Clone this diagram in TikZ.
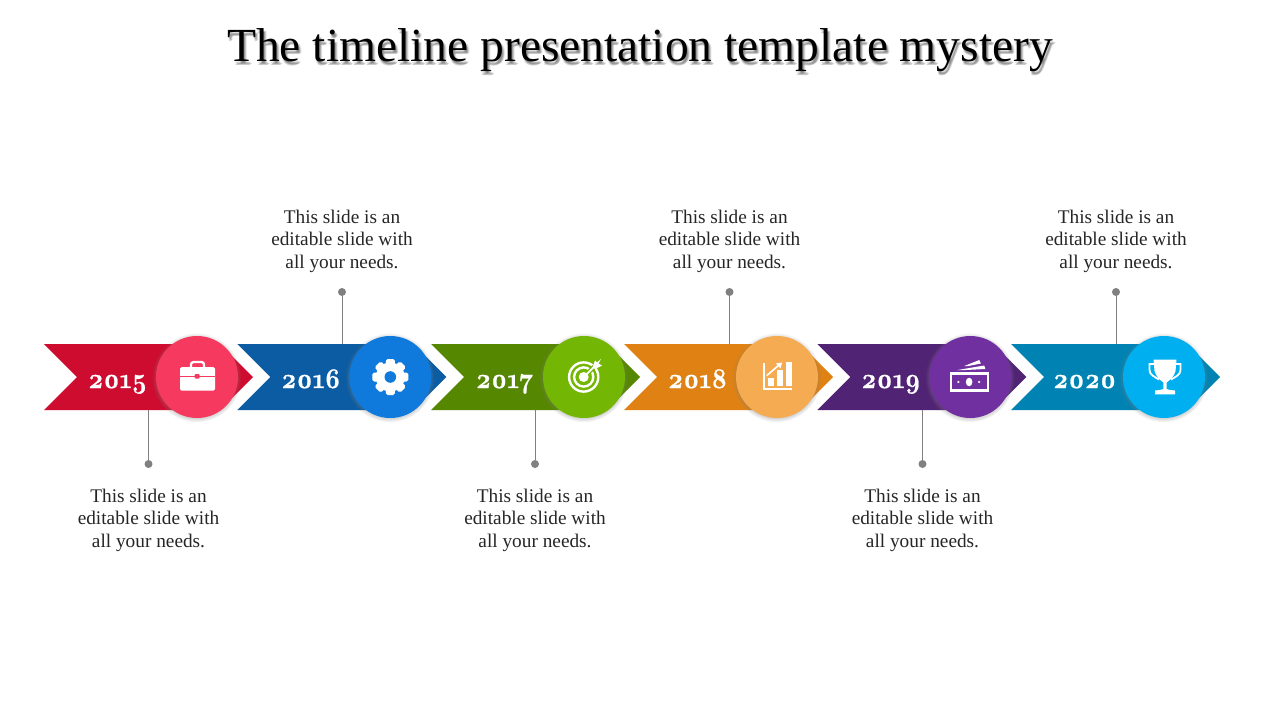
\documentclass[tikz,border=0pt]{standalone}
\usepackage{fontspec}
\setmainfont{Liberation Serif}
\newfontfamily\yearfont[Numbers=OldStyle,FakeStretch=.88,FakeBold=.8]{Latin Modern Roman}
\usetikzlibrary{shadows,fadings,positioning}

\definecolor{redD}{HTML}{CE0C2F}
\definecolor{redL}{HTML}{F63A5F}
\definecolor{blueD}{HTML}{0B5CA3}
\definecolor{blueL}{HTML}{107ADC}
\definecolor{greenD}{HTML}{558700}
\definecolor{greenL}{HTML}{74B604}
\definecolor{orangeD}{HTML}{E08213}
\definecolor{orangeL}{HTML}{F4AB52}
\definecolor{purpleD}{HTML}{512374}
\definecolor{purpleL}{HTML}{7030A0}
\definecolor{tealD}{HTML}{0083B3}
\definecolor{tealL}{HTML}{00AFF0}

\tikzset{
  x=1pt,y=-1pt,
  yeartext/.style={font=\yearfont\bfseries\fontsize{28.5}{28.5}\selectfont,text=white,inner sep=0pt,anchor=base},
  blurb/.style={font=\fontsize{19.3}{22.5}\selectfont,text=black!85,align=center,inner sep=0pt},
  headline/.style={font=\fontsize{47.5}{50}\selectfont,inner sep=0pt},
  disc/.style={circle,minimum size=82pt,inner sep=0pt,
    circular drop shadow={shadow xshift=-.5pt,shadow yshift=-.5pt,shadow scale=1.09,opacity=.5}},
  leaddot/.style={circle,fill=black!50,minimum size=8pt,inner sep=0pt},
  leadline/.style={draw=black!50,line width=1pt},
  iconcase/.pic={
    \fill[white,rounded corners=1.5pt] (-17,-10) rectangle (18,13.5);
    \draw[white,line width=2.2pt,rounded corners=2.5pt] (-6,-10) -- (-6,-15) -- (7,-15) -- (7,-10);
    \fill[redL] (-17,-1) rectangle (18,.2);
    \fill[redL,rounded corners=1pt] (-2.3,-3) rectangle (2.7,1.5);
  },
  icongear/.pic={
    \foreach \a in {0,45,...,315}
      \fill[white,rotate=\a,rounded corners=1.8pt] (-4.5,-18) rectangle (4.5,0);
    \fill[white] (0,0) circle (14.5);
    \fill[blueL] (0,0) circle (5.8);
  },
  icontarget/.pic={
    \draw[white,line width=2.4pt] (-.3,0) circle (14.6);
    \draw[white,line width=2.4pt] (-.3,0) circle (9.6);
    \fill[white] (-.3,0) circle (5);
    \draw[greenL,line width=4.5pt] (4.5,-4.5) -- (12,-12);
    \draw[white,line width=1.8pt] (-.3,0) -- (11,-11);
    \fill[white] (8.5,-9.5) -- (11,-16.5) -- (13,-14.5) -- (17,-18) -- (14.5,-13.5) -- (18,-11.5) -- (11,-8) -- cycle;
  },
  iconchart/.pic={
    \fill[white] (-13.7,-14) rectangle (-12,13);
    \fill[white] (-13.7,11) rectangle (15.3,13);
    \fill[white] (-8.7,.7) rectangle (-2.7,9);
    \fill[white] (-.3,-7) rectangle (6.3,9);
    \fill[white] (8.7,-15) rectangle (15.3,9);
    \draw[white,line width=1.6pt] (-10.3,-1.3) -- (2,-12);
    \fill[white] (5,-14.5) -- (-1,-13.5) -- (3.5,-8.5) -- cycle;
  },
  iconmoney/.pic={
    \draw[white,line width=2.2pt] (-19,-3.5) rectangle (17.5,13.5);
    \fill[white] (-1.2,5) ellipse (3.3 and 4.3);
    \fill[white] (-12,5) circle (1.2);
    \fill[white] (8.8,5) circle (1.2);
    \fill[white] (-14,-6.8) -- (14,-11.5) -- (15,-8) -- (-8,-6.8) -- cycle;
    \fill[white] (-6,-11) -- (9,-17) -- (10.5,-13.5) -- (-2,-11) -- cycle;
  },
  icontrophy/.pic={
    \begin{scope}[xshift=1pt]
    \fill[white] (-11.5,-17.5) -- (11.5,-17.5) -- (10.5,-6) .. controls (8,2) and (3,4) .. (1.6,5.5) -- (1.6,12) -- (5,13) -- (10,13.5) -- (10,17.3) -- (-10,17.3) -- (-10,13.5) -- (-5,13) -- (-1.6,12) -- (-1.6,5.5) .. controls (-3,4) and (-8,2) .. (-10.5,-6) -- cycle;
    \draw[white,line width=1.8pt] (-11,-13) -- (-15.5,-13) -- (-15.5,-7) .. controls (-15.5,-2) and (-10,0) .. (-6,2.5);
    \draw[white,line width=1.8pt] (11,-13) -- (15.5,-13) -- (15.5,-7) .. controls (15.5,-2) and (10,0) .. (6,2.5);
    \end{scope}
  },
}

% the title's soft shade is painted through this mask
\begin{tikzfadingfrompicture}[name=titleshade]
  \node[headline,text=transparent!0] (shademask) at (0,0) {The timeline presentation template mystery};
\end{tikzfadingfrompicture}

\begin{document}
\begin{tikzpicture}
  \useasboundingbox[fill=white] (0,0) rectangle (1280,720);

  \foreach \dx/\dy in {1/2.5,2/3,3/3.5,2/4.5,1/4}{
    \fill[black,opacity=.11,path fading=titleshade,fit fading=false,
      fading transform={shift={(640+\dx,50+\dy)}}] (140,0) rectangle (1140,100);
  }
  \node[headline] (title) at (640,50) {The timeline presentation template mystery};

  % ribbon, one arrow per year
  \foreach \px/\yr/\cD/\cL/\ic in {44/2015/redD/redL/iconcase,237.3/2016/blueD/blueL/icongear,431/2017/greenD/greenL/icontarget,
      624/2018/orangeD/orangeL/iconchart,817.3/2019/purpleD/purpleL/iconmoney,1011/2020/tealD/tealL/icontrophy}{
    \fill[\cD] (\px,344) -- ++(176,0) -- ++(33,33) -- ++(-33,33) -- ++(-176,0) -- ++(33,-33) -- cycle;
    \node[yeartext] (y\yr) at (\px+73.5,388) {\yr};
    \node[disc,fill=\cL] (c\yr) at (\px+153,377) {};
    \pic at (c\yr) {\ic};
  }

  % notes above
  \foreach \yr/\tx in {2016/342,2018/729.5,2020/1116}{
    \node[blurb] (n\yr) at (\tx,241) {This slide is an\\editable slide with\\all your needs.};
    \node[leaddot] (d\yr) at (\tx,292) {};
    \draw[leadline] (d\yr) -- (\tx,344) coordinate (e\yr);
  }
  % notes below
  \foreach \yr/\tx in {2015/148.5,2017/535,2019/922.5}{
    \node[blurb] (n\yr) at (\tx,520) {This slide is an\\editable slide with\\all your needs.};
    \node[leaddot] (d\yr) at (\tx,464) {};
    \draw[leadline] (d\yr) -- (\tx,410) coordinate (e\yr);
  }
\end{tikzpicture}
\end{document}
